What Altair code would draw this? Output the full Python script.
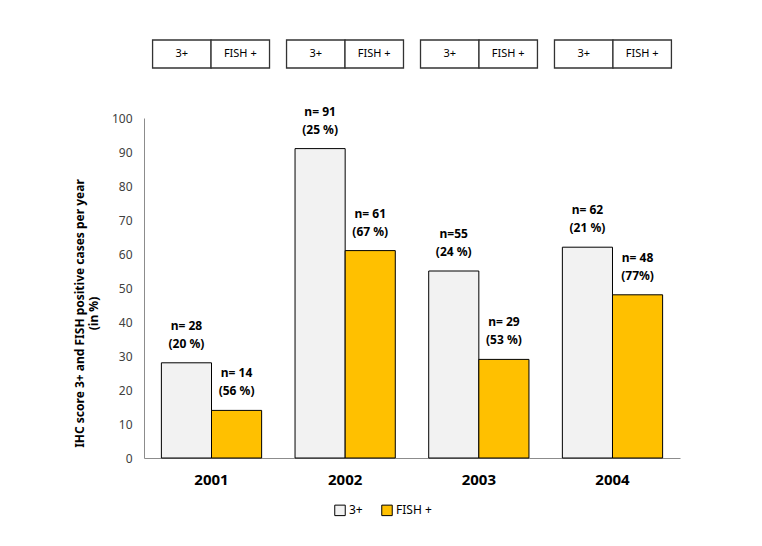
import altair as alt
import pandas as pd

years = ["2001", "2002", "2003", "2004"]
series = ["3+", "FISH +"]
pos3 = [28, 91, 55, 62]
fish = [14, 61, 29, 48]
labels3 = ["n= 28\n(20 %)", "n= 91\n(25 %)", "n=55\n(24 %)", "n= 62\n(21 %)"]
labelsF = ["n= 14\n(56 %)", "n= 61\n(67 %)", "n= 29\n(53 %)", "n= 48\n(77%)"]
y_ticks = list(range(0, 101, 10))

rows = []
for i, yr in enumerate(years):
    rows.append({"year": yr, "series": "3+", "value": pos3[i], "label": labels3[i]})
    rows.append({"year": yr, "series": "FISH +", "value": fish[i], "label": labelsF[i]})
df = pd.DataFrame(rows)

box_df = pd.DataFrame([{"year": yr, "series": s} for yr in years for s in series])

FONT = "Noto Sans"

x_main = alt.X(
    "year:N",
    sort=years,
    scale=alt.Scale(paddingInner=0.25, paddingOuter=0.13),
    axis=alt.Axis(
        title=None, labelAngle=0, ticks=False, labelFont=FONT, labelFontSize=15,
        labelFontWeight="bold", labelColor="#000000", labelPadding=14,
        domainColor="#8c8c8c",
    ),
)
xoff = alt.XOffset("series:N", sort=series)

y_axis = alt.Axis(
    values=y_ticks, tickCount=11, labelOverlap=False, ticks=False, grid=False,
    labelFont=FONT, labelFontSize=12, labelColor="#404040", labelPadding=12,
    domainColor="#8c8c8c",
    title=["IHC score 3+ and FISH positive cases per year", "(in %)"],
    titleFont=FONT, titleFontSize=12, titleFontWeight="bold", titleColor="#000000",
    titleX=-58, titleY=195, titleAngle=-90, titleAlign="center", titleBaseline="bottom",
)
y_enc = alt.Y("value:Q", scale=alt.Scale(domain=[0, 100], nice=False), axis=y_axis)

bars = alt.Chart(df).mark_bar(stroke="#000000", strokeWidth=1).encode(
    x=x_main,
    xOffset=xoff,
    y=y_enc,
    color=alt.Color(
        "series:N",
        scale=alt.Scale(domain=series, range=["#F2F2F2", "#FFC000"]),
        legend=alt.Legend(
            title=None, orient="none", legendX=190, legendY=386, direction="horizontal",
            symbolType="square", symbolSize=110, symbolStrokeColor="#000000",
            symbolStrokeWidth=1, labelFont=FONT, labelFontSize=12, labelColor="#000000",
            columnPadding=16, labelOffset=3,
        ),
    ),
)

texts = alt.Chart(df).mark_text(
    baseline="bottom", dy=-30, lineBreak="\n", lineHeight=18, font=FONT,
    fontSize=12, fontWeight="bold", color="#000000",
).encode(
    x=alt.X("year:N", sort=years),
    xOffset=xoff,
    y=y_enc,
    text="label:N",
)

x_box = alt.X(
    "year:N", sort=years,
    scale=alt.Scale(paddingInner=0.127, paddingOuter=0.064),
    axis=None,
)

box_rect = alt.Chart(box_df).mark_rect(fill="#ffffff", stroke="#333333", strokeWidth=1.3).encode(
    x=x_box,
    xOffset=xoff,
    y=alt.value(-78),
    y2=alt.value(-50),
)
box_text = alt.Chart(box_df).mark_text(font=FONT, fontSize=11, color="#000000", baseline="middle").encode(
    x=x_box,
    xOffset=xoff,
    y=alt.value(-64),
    text="series:N",
)

main = alt.layer(bars, texts)
boxes = alt.layer(box_rect, box_text)

chart = alt.layer(main, boxes).resolve_scale(
    x="independent", xOffset="independent"
).properties(
    width=536,
    height=340,
    autosize=alt.AutoSizeParams(type="none"),
    padding={"left": 136, "top": 110, "right": 60, "bottom": 70},
    background="#ffffff",
).configure_view(stroke=None)

chart.save("out.html", embed_options={"renderer": "svg", "actions": False})
